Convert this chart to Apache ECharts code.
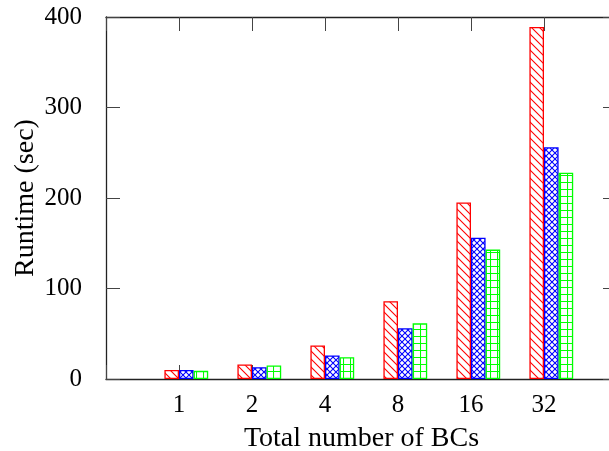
<!DOCTYPE html>
<html>
<head>
<meta charset="utf-8">
<script src="https://cdn.jsdelivr.net/npm/echarts@6/dist/echarts.min.js"></script>
<style>
html,body{margin:0;padding:0;background:#fff;}
#chart{width:609px;height:451px;}
</style>
</head>
<body>
<div id="chart"></div>
<script>
// Data
var categories = ['1', '2', '4', '8', '16', '32'];
var seriesRed = [10, 16, 37, 86, 195, 389];
var seriesBlue = [10, 13, 26, 56, 156, 256];
var seriesGreen = [9, 15, 24, 61.5, 143, 228];
var yTicks = [0, 100, 200, 300, 400];

var FONT = 'Liberation Serif';

function makePattern(color, kind) {
  var c = document.createElement('canvas');
  var s = kind === 'cross' ? 6 : (kind === 'grid' ? 7 : 8);
  c.width = s; c.height = s;
  var g = c.getContext('2d');
  g.fillStyle = '#fff';
  g.fillRect(0, 0, s, s);
  g.strokeStyle = color;
  g.lineWidth = 1.1;
  g.beginPath();
  if (kind === 'diag') {
    g.moveTo(-1, -1); g.lineTo(s + 1, s + 1);
    g.moveTo(-1, s - 1); g.lineTo(1, s + 1);
    g.moveTo(s - 1, -1); g.lineTo(s + 1, 1);
  } else if (kind === 'cross') {
    g.moveTo(-1, -1); g.lineTo(s + 1, s + 1);
    g.moveTo(s + 1, -1); g.lineTo(-1, s + 1);
  } else {
    g.moveTo(0.5, 0); g.lineTo(0.5, s);
    g.moveTo(0, 0.5); g.lineTo(s, 0.5);
  }
  g.stroke();
  return {image: c, repeat: 'repeat'};
}

var xCats = [''].concat(categories).concat(['']);
function pad(arr) { return [null].concat(arr).concat([null]); }

var chart = echarts.init(document.getElementById('chart'), null, {renderer: 'canvas'});
function axLine() { return {show: true, onZero: false, lineStyle: {color: '#222', width: 1.3}}; }
function axTick() { return {show: true, inside: true, length: 14, lineStyle: {color: '#444', width: 1}}; }

function barSeries(name, data, color, kind) {
  return {
    name: name, type: 'bar', data: pad(data),
    barWidth: 14.6, barGap: '0%',
    itemStyle: {color: makePattern(color, kind), borderColor: color, borderWidth: 1.3}
  };
}

chart.setOption({
  animation: false,
  backgroundColor: '#fff',
  grid: {left: 106, top: 17, width: 511, height: 362, outerBoundsMode: 'none', containLabel: false},
  xAxis: [{
    type: 'category', data: xCats, boundaryGap: false,
    axisLine: axLine(), axisTick: axTick(),
    axisLabel: {color: '#000', fontFamily: FONT, fontSize: 25, margin: 14},
    name: 'Total number of BCs', nameLocation: 'middle', nameGap: 46, nameMoveOverlap: false,
    nameTextStyle: {color: '#000', fontFamily: FONT, fontSize: 28}
  }, {
    type: 'category', data: xCats, boundaryGap: false, position: 'top',
    axisLine: axLine(), axisTick: axTick(), axisLabel: {show: false}
  }],
  yAxis: [{
    type: 'value', min: 0, max: 400, interval: 100,
    axisLine: axLine(), axisTick: axTick(),
    splitLine: {show: false},
    axisLabel: {color: '#000', fontFamily: FONT, fontSize: 25, margin: 24,
      formatter: function (v) { return yTicks.indexOf(v) >= 0 ? String(v) : ''; }},
    name: 'Runtime (sec)', nameLocation: 'middle', nameGap: 66, nameMoveOverlap: false,
    nameTextStyle: {color: '#000', fontFamily: FONT, fontSize: 28}
  }, {
    type: 'value', min: 0, max: 400, interval: 100, position: 'right',
    axisLine: axLine(), axisTick: axTick(),
    splitLine: {show: false}, axisLabel: {show: false}
  }],
  series: [
    {name: 'gap', type: 'bar', data: pad(categories.map(function () { return null; })), barWidth: 14.6, barGap: '0%'},
    barSeries('Red', seriesRed, '#ff0000', 'diag'),
    barSeries('Blue', seriesBlue, '#0000ff', 'cross'),
    barSeries('Green', seriesGreen, '#00ff00', 'grid')
  ]
});
</script>
</body>
</html>
